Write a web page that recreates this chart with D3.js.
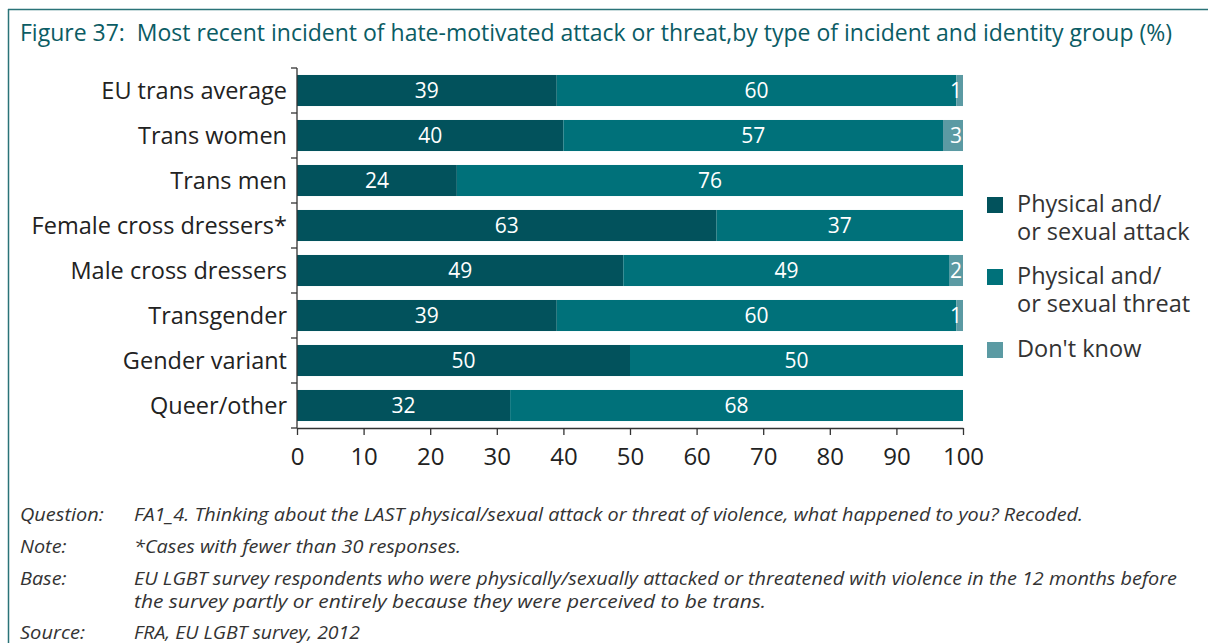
<!DOCTYPE html>
<html>
<head>
<meta charset="utf-8">
<script src="https://cdn.jsdelivr.net/npm/d3@7"></script>
<style>
  body { margin: 0; background: #fff; }
  svg { display: block; font-family: "Open Sans", "Noto Sans", sans-serif; }
</style>
</head>
<body>
<svg id="chart" width="1208" height="643"></svg>
<script>
// data
var groups = ["EU trans average", "Trans women", "Trans men", "Female cross dressers*",
              "Male cross dressers", "Transgender", "Gender variant", "Queer/other"];
var attack = [39, 40, 24, 63, 49, 39, 50, 32];
var threat = [60, 57, 76, 37, 49, 60, 50, 68];
var dontKnow = [1, 3, 0, 0, 2, 1, 0, 0];
var seriesNames = ["Physical and/\nor sexual attack", "Physical and/\nor sexual threat", "Don't know"];
var xTicks = [0, 10, 20, 30, 40, 50, 60, 70, 80, 90, 100];

var colors = ["#02525c", "#00717a", "#5b9aa3"];
var teal = "#0b5c64";

var svg = d3.select("#chart");

// frame
svg.append("line").attr("x1", 8).attr("x2", 1208).attr("y1", 9.5).attr("y2", 9.5)
    .attr("stroke", "#2a7378").attr("stroke-width", 1.5);
svg.append("line").attr("x1", 8.5).attr("x2", 8.5).attr("y1", 9).attr("y2", 643)
    .attr("stroke", "#2a7378").attr("stroke-width", 1.5);

// title
svg.append("text")
    .attr("x", 20).attr("y", 41)
    .attr("fill", teal)
    .style("font-size", "23.5px")
    .style("white-space", "pre")
    .attr("textLength", 1152).attr("lengthAdjust", "spacingAndGlyphs")
    .text("Figure 37:  Most recent incident of hate-motivated attack or threat,by type of incident and identity group (%)");

// scales
var x = d3.scaleLinear().domain([0, 100]).range([297, 963]);
var y = d3.scaleBand().domain(groups).range([68, 428]).paddingInner(0.31).paddingOuter(0.155);

// stack rows
var rows = groups.map(function(g, i) {
    return { group: g, values: [attack[i], threat[i], dontKnow[i]] };
});

var segs = [];
rows.forEach(function(r) {
    var cum = 0;
    r.values.forEach(function(v, k) {
        segs.push({ group: r.group, k: k, v: v, x0: cum, x1: cum + v });
        cum += v;
    });
});

var bars = svg.append("g");
bars.selectAll("rect")
    .data(segs.filter(function(d) { return d.v > 0; }))
    .enter()
    .append("rect")
    .attr("x", function(d) { return x(d.x0); })
    .attr("y", function(d) { return y(d.group); })
    .attr("width", function(d) { return x(d.x1) - x(d.x0); })
    .attr("height", y.bandwidth())
    .attr("fill", function(d) { return colors[d.k]; });

bars.selectAll("text")
    .data(segs.filter(function(d) { return d.v > 0; }))
    .enter()
    .append("text")
    .attr("x", function(d) {
        // small values sit at the right end of the bar
        return d.v < 5 ? x(d.x1) - 1 : (x(d.x0) + x(d.x1)) / 2;
    })
    .attr("y", function(d) { return y(d.group) + y.bandwidth() / 2; })
    .attr("dy", "0.36em")
    .attr("text-anchor", function(d) { return d.v < 5 ? "end" : "middle"; })
    .attr("fill", "#fff")
    .style("font-size", "21px")
    .text(function(d) { return d.v; });

// y axis line with ticks at band boundaries
var axisColor = "#333";
var half = y.step() * y.paddingInner() / 2;
svg.append("line").attr("x1", 297).attr("x2", 297).attr("y1", 68).attr("y2", 428)
    .attr("stroke", axisColor).attr("stroke-width", 1.3);
var bounds = groups.map(function(g) { return y(g) - half; }).concat([428]);
svg.selectAll(".ytick").data(bounds).enter().append("line")
    .attr("class", "ytick")
    .attr("x1", 291).attr("x2", 297)
    .attr("y1", function(d) { return d; }).attr("y2", function(d) { return d; })
    .attr("stroke", axisColor).attr("stroke-width", 1.3);

// category labels
svg.selectAll(".ylab").data(groups).enter().append("text")
    .attr("class", "ylab")
    .attr("x", 287)
    .attr("y", function(d) { return y(d) + y.bandwidth() / 2; })
    .attr("dy", "0.36em")
    .attr("text-anchor", "end")
    .attr("fill", "#222")
    .style("font-size", "23.5px")
    .text(function(d) { return d; });

// x axis
var xAxis = svg.append("g")
    .attr("transform", "translate(0,428)")
    .call(d3.axisBottom(x).tickValues(xTicks).tickSize(7).tickSizeOuter(0).tickPadding(13));
xAxis.select(".domain").attr("stroke", axisColor).attr("stroke-width", 1.3);
xAxis.selectAll(".tick line").attr("stroke", axisColor).attr("stroke-width", 1.3);
xAxis.selectAll(".tick text")
    .attr("fill", "#222")
    .style("font-size", "24px")
    .style("font-family", "'Open Sans', 'Noto Sans', sans-serif");

// legend (two-line entries kept in one text element)
var legendTop = [197, 269, 342];
var legend = svg.append("g");
seriesNames.forEach(function(name, i) {
    legend.append("rect")
        .attr("x", 987).attr("y", legendTop[i])
        .attr("width", 16).attr("height", 16)
        .attr("fill", colors[i]);
    var t = legend.append("text")
        .attr("y", legendTop[i] + 15)
        .attr("fill", "#333")
        .style("font-size", "23.5px");
    name.split("\n").forEach(function(line, j) {
        t.append("tspan")
            .attr("x", 1017)
            .attr("dy", j === 0 ? 0 : 28)
            .text(line);
    });
});

// footnotes
var noteLabels = ["Question:", "Note:", "Base:", "", "Source:"];
var noteTexts = [
    "FA1_4. Thinking about the LAST physical/sexual attack or threat of violence, what happened to you? Recoded.",
    "*Cases with fewer than 30 responses.",
    "EU LGBT survey respondents who were physically/sexually attacked or threatened with violence in the 12 months before",
    "the survey partly or entirely because they were perceived to be trans.",
    "FRA, EU LGBT survey, 2012"
];
var noteY = [521, 553, 585, 608, 639];
var noteW = [949, 327, 1043, 632, 226];
var notes = svg.append("g").style("font-style", "italic").style("font-size", "18px").attr("fill", "#333");
noteLabels.forEach(function(l, i) {
    notes.append("text").attr("x", 20).attr("y", noteY[i])
        .attr("textLength", l ? l.length * 9.3 : null)
        .attr("lengthAdjust", "spacingAndGlyphs")
        .text(l);
    notes.append("text").attr("x", 134).attr("y", noteY[i])
        .attr("textLength", noteW[i]).attr("lengthAdjust", "spacingAndGlyphs")
        .text(noteTexts[i]);
});
</script>
</body>
</html>
